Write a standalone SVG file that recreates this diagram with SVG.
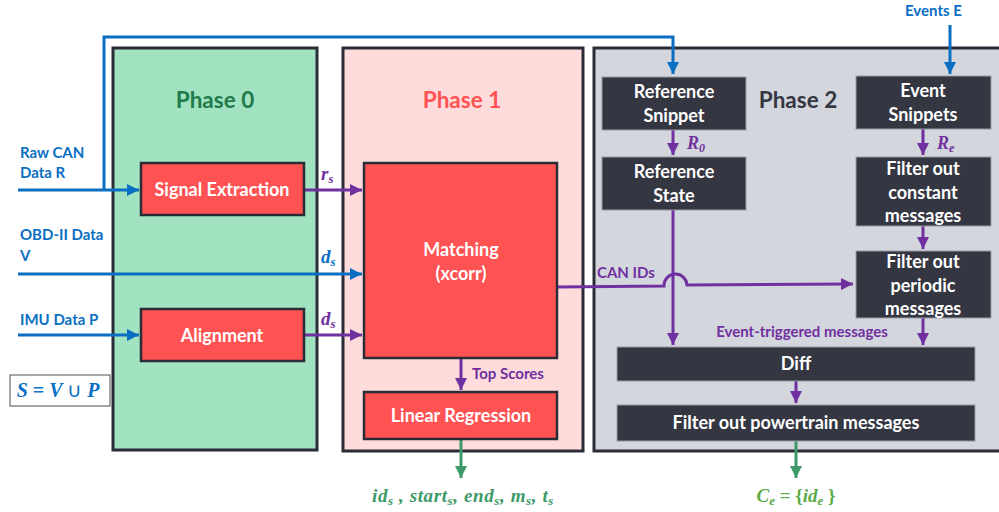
<svg xmlns="http://www.w3.org/2000/svg" width="999" height="512" viewBox="0 0 999 512">
<defs>
<style>
.phase{stroke:#2b2d36;stroke-width:3}
.red{fill:#ff5253;stroke:#2b2d36;stroke-width:2.5}
.dark{fill:#343642;stroke:#9a9ca4;stroke-width:1}
.lbl{font-family:Lato,"Open Sans",sans-serif;font-weight:bold;font-size:18px;fill:#fff;text-anchor:middle}
.ttl{font-family:Lato,"Open Sans",sans-serif;font-weight:bold;font-size:22.5px;text-anchor:middle}
.side{font-family:Lato,"Open Sans",sans-serif;font-weight:bold;font-size:15px;fill:#0a6fc2}
.plbl{font-family:Lato,"Open Sans",sans-serif;font-weight:bold;font-size:15px;fill:#7030a0}
.math{font-family:"Liberation Serif",serif;font-weight:bold;font-style:italic}
.blue{stroke:#0a6fc2;stroke-width:3;fill:none}
.purp{stroke:#7030a0;stroke-width:3;fill:none}
.grn{stroke:#3d9a68;stroke-width:3;fill:none}
</style>
<marker id="ab" viewBox="0 0 10 10" refX="10" refY="5" markerWidth="4" markerHeight="4" orient="auto" markerUnits="strokeWidth"><path d="M0,0L10,5L0,10z" fill="#0a6fc2"/></marker>
<marker id="ap" viewBox="0 0 10 10" refX="10" refY="5" markerWidth="4" markerHeight="4" orient="auto" markerUnits="strokeWidth"><path d="M0,0L10,5L0,10z" fill="#7030a0"/></marker>
<marker id="ag" viewBox="0 0 10 10" refX="10" refY="5" markerWidth="4" markerHeight="4" orient="auto" markerUnits="strokeWidth"><path d="M0,0L10,5L0,10z" fill="#3d9a68"/></marker>
</defs>
<rect width="999" height="512" fill="#fff"/>

<g id="phase0">
<rect class="phase" x="113" y="48" width="204" height="402" fill="#a1e3c1"/>
<text class="ttl" x="215" y="108" fill="#217a4a">Phase 0</text>
</g>
<g id="phase1">
<rect class="phase" x="343" y="48" width="240" height="403" fill="#ffdcdc"/>
<text class="ttl" x="462" y="108" fill="#ff5253">Phase 1</text>
</g>
<g id="phase2">
<rect class="phase" x="594" y="48" width="410" height="403" fill="#d4d6dd"/>
<text class="ttl" x="798" y="108" fill="#343642">Phase 2</text>
</g>

<g id="connectors">
<polyline class="blue" points="104,190 104,37 673,37 673,74" marker-end="url(#ab)"/>
<line class="blue" x1="18" y1="190" x2="139" y2="190" marker-end="url(#ab)"/>
<line class="blue" x1="18" y1="274" x2="362" y2="274" marker-end="url(#ab)"/>
<line class="blue" x1="18" y1="335" x2="139" y2="335" marker-end="url(#ab)"/>
<line class="blue" x1="950" y1="25" x2="950" y2="74" marker-end="url(#ab)"/>
<line class="purp" x1="304" y1="190" x2="362" y2="190" marker-end="url(#ap)"/>
<line class="purp" x1="304" y1="335" x2="362" y2="335" marker-end="url(#ap)"/>
<line class="purp" x1="461" y1="358" x2="461" y2="390" marker-end="url(#ap)"/>
<path class="purp" d="M557,287 L664,286 A11.5,11.5 0 0 1 687,285 L853,284" marker-end="url(#ap)"/>
<line class="purp" x1="673" y1="130" x2="673" y2="155" marker-end="url(#ap)"/>
<line class="purp" x1="673" y1="210" x2="673" y2="345" marker-end="url(#ap)"/>
<line class="purp" x1="923" y1="129" x2="923" y2="155" marker-end="url(#ap)"/>
<line class="purp" x1="923" y1="226" x2="923" y2="249" marker-end="url(#ap)"/>
<line class="purp" x1="923" y1="318" x2="923" y2="345" marker-end="url(#ap)"/>
<line class="purp" x1="796" y1="381" x2="796" y2="403" marker-end="url(#ap)"/>
<line class="grn" x1="461" y1="439" x2="461" y2="478" marker-end="url(#ag)"/>
<line class="grn" x1="796" y1="441" x2="796" y2="478" marker-end="url(#ag)"/>
</g>

<g id="labels">
<text class="side" x="20" y="158">Raw CAN</text>
<text class="side" x="20" y="178">Data R</text>
<text class="side" x="20" y="240">OBD-II Data</text>
<text class="side" x="20" y="261">V</text>
<text class="side" x="20" y="325">IMU Data P</text>
<text class="side" x="905" y="16">Events E</text>
<text class="math" x="321" y="180" font-size="19" fill="#7030a0">r<tspan font-size="13" dy="3">s</tspan></text>
<text class="math" x="321" y="263" font-size="19" fill="#0a6fc2">d<tspan font-size="13" dy="3">s</tspan></text>
<text class="math" x="321" y="325" font-size="19" fill="#7030a0">d<tspan font-size="13" dy="3">s</tspan></text>
<text class="plbl" x="472" y="379">Top Scores</text>
<text class="plbl" x="597" y="278">CAN IDs</text>
<text class="plbl" x="802" y="337" text-anchor="middle">Event-triggered messages</text>
<text class="math" x="687" y="149" font-size="18" fill="#7030a0">R<tspan font-size="12" dy="3">0</tspan></text>
<text class="math" x="937" y="149" font-size="18" fill="#7030a0">R<tspan font-size="12" dy="3">e</tspan></text>
<text class="math" x="463" y="502" font-size="19" fill="#3d9a68" text-anchor="middle" letter-spacing="0.6">id<tspan font-size="13" dy="3">s</tspan><tspan dy="-3"> , start</tspan><tspan font-size="13" dy="3">s</tspan><tspan dy="-3">, end</tspan><tspan font-size="13" dy="3">s</tspan><tspan dy="-3">, m</tspan><tspan font-size="13" dy="3">s</tspan><tspan dy="-3">, t</tspan><tspan font-size="13" dy="3">s</tspan></text>
<text class="math" x="796" y="502" font-size="19" fill="#5aab47" text-anchor="middle">C<tspan font-size="13" dy="3">e</tspan><tspan dy="-3" font-style="normal"> = {</tspan><tspan>id</tspan><tspan font-size="13" dy="3">e</tspan><tspan dy="-3" font-style="normal"> }</tspan></text>
</g>

<g id="formula">
<rect x="10" y="375" width="100" height="31" fill="#fff" stroke="#6a6a6a" stroke-width="1.2"/>
<text class="math" x="58" y="397" font-size="20" fill="#0a6fc2" text-anchor="middle">S <tspan font-style="normal">=</tspan> V <tspan font-style="normal" font-weight="normal">∪</tspan> P</text>
</g>

<g id="signal-extraction">
<rect class="red" x="141" y="163" width="163" height="52"/>
<text class="lbl" x="222" y="196">Signal Extraction</text>
</g>
<g id="alignment">
<rect class="red" x="141" y="309" width="163" height="52"/>
<text class="lbl" x="222" y="342">Alignment</text>
</g>
<g id="matching">
<rect class="red" x="364" y="163" width="193" height="195"/>
<text class="lbl" x="461" y="256">Matching</text>
<text class="lbl" x="461" y="280">(xcorr)</text>
</g>
<g id="linear-regression">
<rect class="red" x="364" y="392" width="193" height="47"/>
<text class="lbl" x="461" y="422">Linear Regression</text>
</g>
<g id="reference-snippet">
<rect class="dark" x="602" y="77" width="144" height="53"/>
<text class="lbl" x="674" y="98">Reference</text>
<text class="lbl" x="674" y="122">Snippet</text>
</g>
<g id="reference-state">
<rect class="dark" x="602" y="157" width="144" height="53"/>
<text class="lbl" x="674" y="178">Reference</text>
<text class="lbl" x="674" y="202">State</text>
</g>
<g id="event-snippets">
<rect class="dark" x="856" y="76" width="135" height="53"/>
<text class="lbl" x="923" y="97">Event</text>
<text class="lbl" x="923" y="121">Snippets</text>
</g>
<g id="filter-constant">
<rect class="dark" x="856" y="157" width="135" height="69"/>
<text class="lbl" x="923" y="175">Filter out</text>
<text class="lbl" x="923" y="199">constant</text>
<text class="lbl" x="923" y="222">messages</text>
</g>
<g id="filter-periodic">
<rect class="dark" x="856" y="251" width="135" height="67"/>
<text class="lbl" x="923" y="268">Filter out</text>
<text class="lbl" x="923" y="292">periodic</text>
<text class="lbl" x="923" y="315">messages</text>
</g>
<g id="diff">
<rect class="dark" x="617" y="347" width="358" height="34"/>
<text class="lbl" x="796" y="370">Diff</text>
</g>
<g id="filter-powertrain">
<rect class="dark" x="617" y="405" width="358" height="36"/>
<text class="lbl" x="796" y="429">Filter out powertrain messages</text>
</g>
</svg>
